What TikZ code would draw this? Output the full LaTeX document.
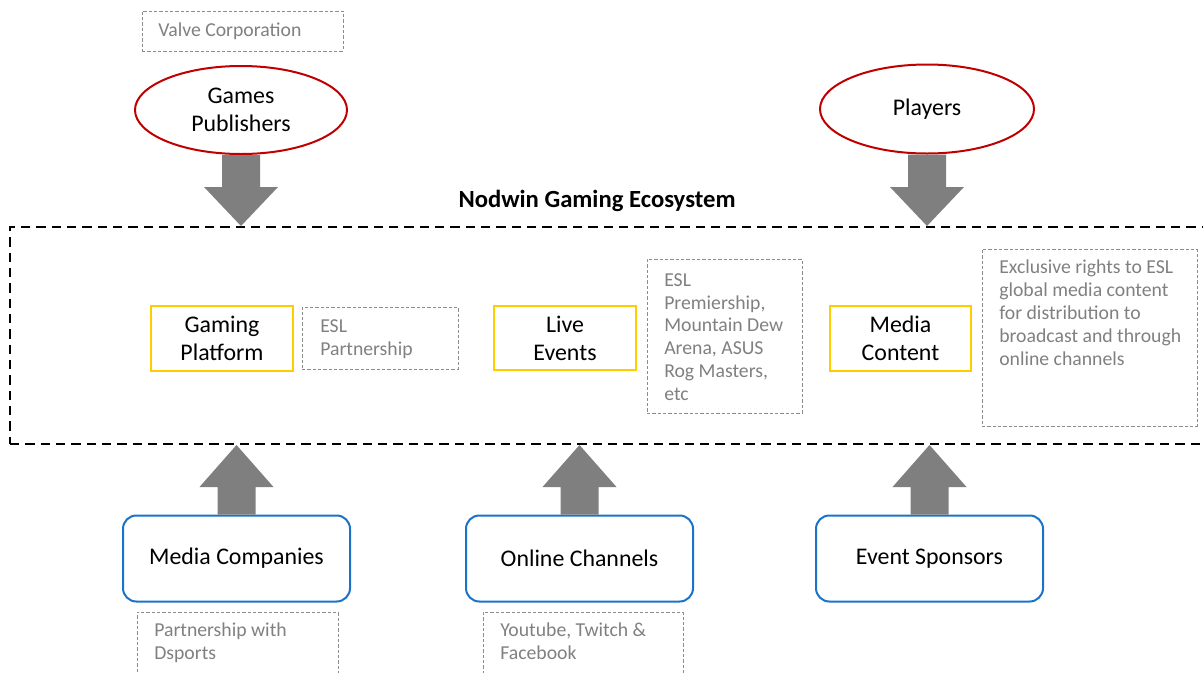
\documentclass[tikz,border=0pt]{standalone}
\usepackage{fontspec}
\setmainfont{Carlito}
\usetikzlibrary{shapes.geometric,calc}
\definecolor{ered}{HTML}{C00000}
\definecolor{byellow}{HTML}{FFCC00}
\definecolor{bblue}{HTML}{1A73C7}
\definecolor{agray}{HTML}{7F7F7F}
\definecolor{tgray}{HTML}{808080}
\definecolor{lgray}{HTML}{8C8C8C}
\newcommand\mainf{\fontsize{17.9}{21}\selectfont}
\newcommand\grayf{\fontsize{14.8}{17.1}\selectfont}
\newcommand\blockarr[3]{%
  \fill[blockfill] ($(#1)+(-19,0)$) -- ($(#2)+(-19,#3)$) -- ($(#2)+(-37,#3)$) -- (#2)
    -- ($(#2)+(37,#3)$) -- ($(#2)+(19,#3)$) -- ($(#1)+(19,0)$) -- cycle;}
\tikzset{
  px/.style={x=0.75pt,y=-0.75pt},
  ell/.style={ellipse,draw=ered,line width=1.5pt,fill=white,font=\mainf,align=center,inner sep=0pt},
  ybox/.style={rectangle,draw=byellow,line width=1.5pt,font=\mainf,align=center,inner sep=0pt},
  bbox/.style={rectangle,rounded corners=10pt,draw=bblue,line width=1.5pt,font=\mainf,align=center,inner sep=0pt,
    minimum width={227*0.75pt},minimum height={86*0.75pt}},
  gbox/.style={rectangle,draw=lgray,line width=0.75pt,dash pattern=on 2.4pt off 1.6pt,inner sep=0pt},
  gtext/.style={text=tgray,font=\grayf,align=left,inner sep=0pt},
  blockfill/.style={fill=agray},
  ecobox/.style={rectangle,draw=black,line width=1.5pt,dash pattern=on 7pt off 4.5pt,inner sep=0pt},
}
\begin{document}
\begin{tikzpicture}[px]
\useasboundingbox (0,0) rectangle (1203,672);
\clip (0,0) rectangle (1203,672);
% ecosystem frame
\node[ecobox,minimum width={1205*0.75pt},minimum height={217*0.75pt}] (eco) at (612.5,335.5) {};
\node[font=\fontsize{18.5}{21}\selectfont\bfseries] (title) at (597,201) {Nodwin Gaming Ecosystem};
% top
\node[gbox,minimum width={201*0.75pt},minimum height={40*0.75pt}] (valve) at (242.5,31) {};
\node[gtext,anchor=west] (valvet) at (158,31.5) {Valve Corporation};
\node[ell,minimum width={212*0.75pt},minimum height={88*0.75pt}] (gp) at (241,110) {Games\\Publishers};
\node[ell,minimum width={214*0.75pt},minimum height={89*0.75pt}] (pl) at (927,109) {Players};
% inner boxes
\node[ybox,minimum width={142*0.75pt},minimum height={65*0.75pt}] (gplat) at (222,338.5) {Gaming\\Platform};
\node[gbox,minimum width={156*0.75pt},minimum height={62*0.75pt}] (eslp) at (380,338) {};
\node[gtext,anchor=west] (eslpt) at (320,339) {ESL\\Partnership};
\node[ybox,minimum width={142*0.75pt},minimum height={64*0.75pt}] (live) at (565,338) {Live\\Events};
\node[gbox,minimum width={155*0.75pt},minimum height={154*0.75pt}] (prem) at (724.5,336) {};
\node[gtext,anchor=west] (premt) at (664,337) {ESL\\Premiership,\\Mountain Dew\\Arena, ASUS\\Rog Masters,\\etc};
\node[ybox,minimum width={141*0.75pt},minimum height={65*0.75pt}] (media) at (900.5,338.5) {Media\\Content};
\node[gbox,minimum width={215*0.75pt},minimum height={177*0.75pt}] (excl) at (1089.5,337.5) {};
\node[gtext,anchor=north west] (exclt) at (999,260) {Exclusive rights to ESL\\global media content\\for distribution to\\broadcast and through\\online channels};
% bottom
\node[bbox] (mc) at (236.5,558.5) {Media Companies};
\node[bbox] (oc) at (579.5,558.5) {Online Channels};
\node[bbox] (es) at (929.5,558.5) {Event Sponsors};
\node[gbox,minimum width={201*0.75pt},minimum height={80*0.75pt}] (dsp) at (237.5,652) {};
\node[gtext,anchor=north west] (dspt) at (154,623) {Partnership with\\Dsports};
\node[gbox,minimum width={200*0.75pt},minimum height={80*0.75pt}] (yt) at (583,652) {};
\node[gtext,anchor=north west] (ytt) at (500,623) {Youtube, Twitch \&\\Facebook};
% block arrows
\blockarr{gp.south}{gp.south |- eco.north}{-39}
\blockarr{pl.south}{pl.south |- eco.north}{-39}
\blockarr{mc.north}{mc.north |- eco.south}{42}
\blockarr{oc.north}{oc.north |- eco.south}{42}
\blockarr{es.north}{es.north |- eco.south}{42}
\end{tikzpicture}
\end{document}
